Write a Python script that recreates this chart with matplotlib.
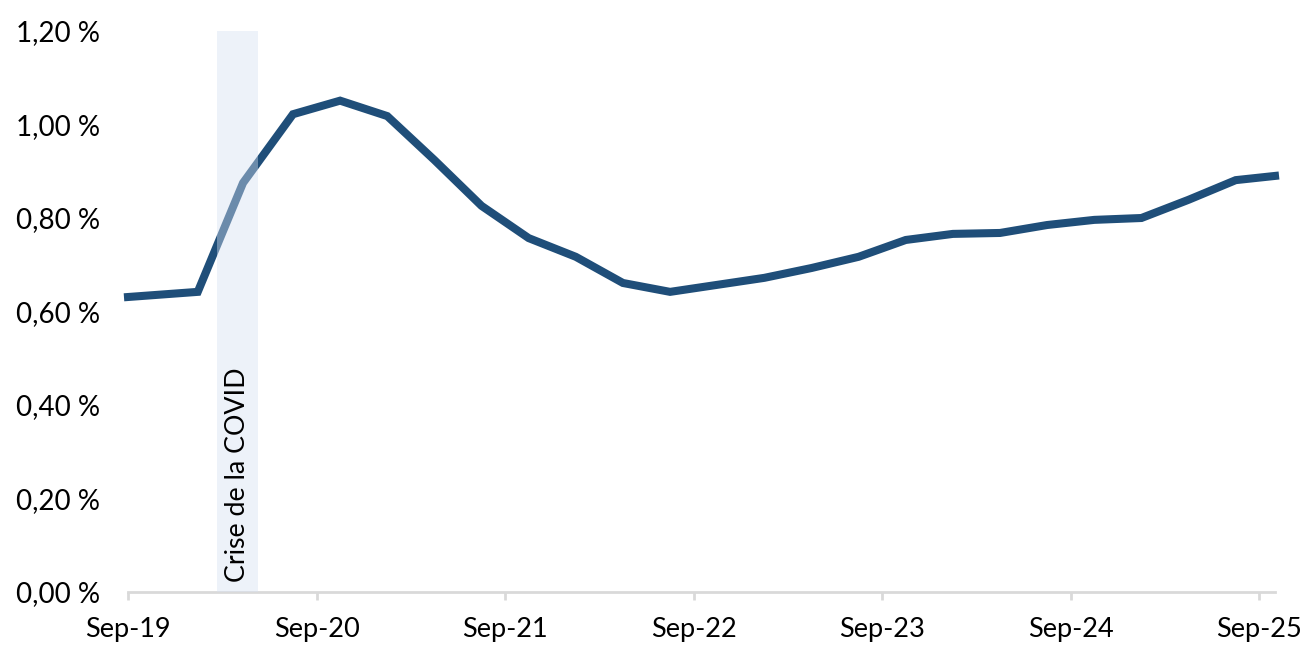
import matplotlib
matplotlib.use("Agg")
import matplotlib.pyplot as plt
from matplotlib.ticker import FuncFormatter

plt.rcParams['font.family'] = ['Lato', 'DejaVu Sans']

# months since Sep-2019
months = [0, 4.44, 7.32, 10.5, 13.5, 16.5, 19.5, 22.5, 25.5, 28.5, 31.5, 34.5,
          37.5, 40.5, 43.5, 46.5, 49.5, 52.5, 55.5, 58.5, 61.5, 64.5, 67.5, 70.5, 73.0]
values = [0.631, 0.642, 0.875, 1.022, 1.051, 1.018, 0.924, 0.826, 0.757, 0.717,
          0.661, 0.642, 0.657, 0.672, 0.693, 0.717, 0.753, 0.766, 0.768, 0.785,
          0.796, 0.800, 0.839, 0.881, 0.890]
tick_months = [0, 12, 24, 36, 48, 60, 72]
tick_labels = ['Sep-19', 'Sep-20', 'Sep-21', 'Sep-22', 'Sep-23', 'Sep-24', 'Sep-25']
y_ticks = [0.0, 0.2, 0.4, 0.6, 0.8, 1.0, 1.2]
covid_start, covid_end = 5.67, 8.25
covid_label = 'Crise de la COVID'

fig = plt.figure(figsize=(13.11, 6.61), dpi=100)
ax = fig.add_axes([128/1311, (661-592)/661, (1275-128)/1311, (592-31)/661])

ax.plot(months, values, color='#1F4E79', lw=5.8, solid_joinstyle='miter', zorder=2, clip_on=False)
ax.axvspan(covid_start, covid_end, color=(214/255, 224/255, 241/255), alpha=0.42, lw=0, zorder=3)
ax.text((covid_start + covid_end) / 2, 0.022, covid_label, rotation=90, ha='center', va='bottom',
        fontsize=19.3, color='black', zorder=4)

ax.set_xlim(0, 73)
ax.set_ylim(0, 1.2)
ax.set_xticks(tick_months)
ax.set_xticklabels(tick_labels)
ax.set_yticks(y_ticks)
ax.yaxis.set_major_formatter(FuncFormatter(lambda v, p: f"{v:.2f} %".replace('.', ',')))

for s in ['top', 'right', 'left']:
    ax.spines[s].set_visible(False)
ax.spines['bottom'].set_color('#D9D9D9')
ax.spines['bottom'].set_linewidth(2)
ax.tick_params(axis='x', length=6, width=2, color='#D9D9D9', labelsize=19.5, pad=12, labelcolor='black')
ax.tick_params(axis='y', length=0, labelsize=20, pad=20, labelcolor='black')

fig.savefig('out.png', dpi=100)
